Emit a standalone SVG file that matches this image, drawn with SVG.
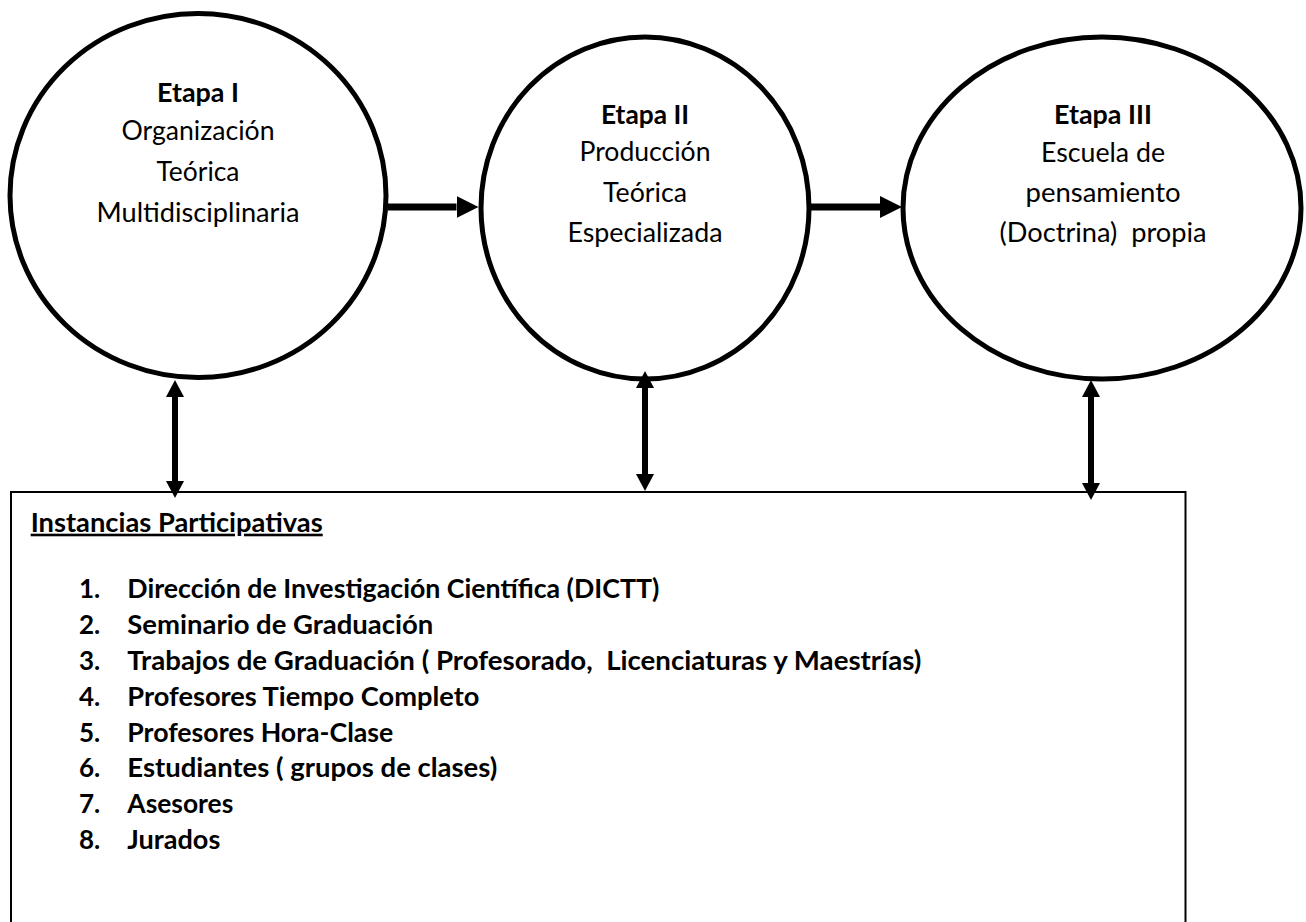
<svg xmlns="http://www.w3.org/2000/svg" width="1306" height="922" viewBox="0 0 1306 922">
<style>
.node ellipse{fill:#fff;stroke:#000;stroke-width:5}
.t{font-family:Lato,"Liberation Sans",sans-serif;font-size:26px;fill:#000;white-space:pre}
.c{text-anchor:middle}
.b{font-weight:bold}
.conn line{stroke:#000}
.h{stroke-width:7}
.v{stroke-width:6}
</style>
<defs>
<marker id="ah" viewBox="0 0 22 22" refX="0" refY="11" markerWidth="22" markerHeight="22" markerUnits="userSpaceOnUse" orient="auto-start-reverse"><path d="M0,0 L22,11 L0,22 z" fill="#000"/></marker>
<marker id="av" viewBox="0 0 17 18" refX="0" refY="9" markerWidth="17" markerHeight="18" markerUnits="userSpaceOnUse" orient="auto-start-reverse"><path d="M0,0 L17,9 L0,18 z" fill="#000"/></marker>
</defs>
<rect width="1306" height="922" fill="#fff"/>
<g id="etapa1" class="node">
<ellipse cx="198" cy="195.5" rx="188" ry="182"/>
<text class="t c b" x="198" y="101.5" textLength="82" lengthAdjust="spacingAndGlyphs">Etapa I</text>
<text class="t c" x="198" y="140" textLength="153" lengthAdjust="spacingAndGlyphs">Organización</text>
<text class="t c" x="198" y="180.5" textLength="83" lengthAdjust="spacingAndGlyphs">Teórica</text>
<text class="t c" x="198" y="221.5" textLength="203" lengthAdjust="spacingAndGlyphs">Multidisciplinaria</text>
</g>
<g id="etapa2" class="node">
<ellipse cx="645" cy="208" rx="164" ry="171"/>
<text class="t c b" x="645" y="123.5" textLength="88" lengthAdjust="spacingAndGlyphs">Etapa II</text>
<text class="t c" x="645" y="161" textLength="131" lengthAdjust="spacingAndGlyphs">Producción</text>
<text class="t c" x="645" y="201.5" textLength="84" lengthAdjust="spacingAndGlyphs">Teórica</text>
<text class="t c" x="645" y="241.5" textLength="155" lengthAdjust="spacingAndGlyphs">Especializada</text>
</g>
<g id="etapa3" class="node">
<ellipse cx="1102" cy="208" rx="199" ry="171"/>
<text class="t c b" x="1103" y="124" textLength="98" lengthAdjust="spacingAndGlyphs">Etapa III</text>
<text class="t c" x="1103" y="161.5" textLength="124" lengthAdjust="spacingAndGlyphs">Escuela de</text>
<text class="t c" x="1103" y="201.5" textLength="155" lengthAdjust="spacingAndGlyphs">pensamiento</text>
<text class="t c" x="1103" y="241.5" textLength="207" lengthAdjust="spacingAndGlyphs">(Doctrina)  propia</text>
</g>
<g id="instancias" class="node">
<path d="M11,930 V492 H1185.5 V930" fill="none" stroke="#000" stroke-width="2"/>
<text class="t b" x="30.7" y="531.7" textLength="292" lengthAdjust="spacingAndGlyphs" text-decoration="underline">Instancias Participativas</text>
<text class="t b" x="79" y="598">1.</text>
<text class="t b" x="127.3" y="598" textLength="532" lengthAdjust="spacingAndGlyphs">Dirección de Investigación Científica (DICTT)</text>
<text class="t b" x="79" y="634">2.</text>
<text class="t b" x="127.3" y="634" textLength="306" lengthAdjust="spacingAndGlyphs">Seminario de Graduación</text>
<text class="t b" x="79" y="670">3.</text>
<text class="t b" x="127.3" y="670" textLength="794" lengthAdjust="spacingAndGlyphs">Trabajos de Graduación ( Profesorado,  Licenciaturas y Maestrías)</text>
<text class="t b" x="79" y="705.8">4.</text>
<text class="t b" x="127.3" y="705.8" textLength="352" lengthAdjust="spacingAndGlyphs">Profesores Tiempo Completo</text>
<text class="t b" x="79" y="741.6">5.</text>
<text class="t b" x="127.3" y="741.6" textLength="266" lengthAdjust="spacingAndGlyphs">Profesores Hora-Clase</text>
<text class="t b" x="79" y="777.4">6.</text>
<text class="t b" x="127.3" y="777.4" textLength="370" lengthAdjust="spacingAndGlyphs">Estudiantes ( grupos de clases)</text>
<text class="t b" x="79" y="813.2">7.</text>
<text class="t b" x="127.3" y="813.2" textLength="106" lengthAdjust="spacingAndGlyphs">Asesores</text>
<text class="t b" x="79" y="849">8.</text>
<text class="t b" x="127.3" y="849" textLength="93" lengthAdjust="spacingAndGlyphs">Jurados</text>
</g>
<g id="connectors" class="conn">
<line class="h" x1="388" y1="207" x2="456.5" y2="207" marker-end="url(#ah)"/>
<line class="h" x1="811" y1="207" x2="880" y2="207" marker-end="url(#ah)"/>
<line class="v" x1="175" y1="397" x2="175" y2="481" marker-start="url(#av)" marker-end="url(#av)"/>
<line class="v" x1="645" y1="388" x2="645" y2="474" marker-start="url(#av)" marker-end="url(#av)"/>
<line class="v" x1="1091" y1="397" x2="1091" y2="483" marker-start="url(#av)" marker-end="url(#av)"/>
</g>
</svg>
